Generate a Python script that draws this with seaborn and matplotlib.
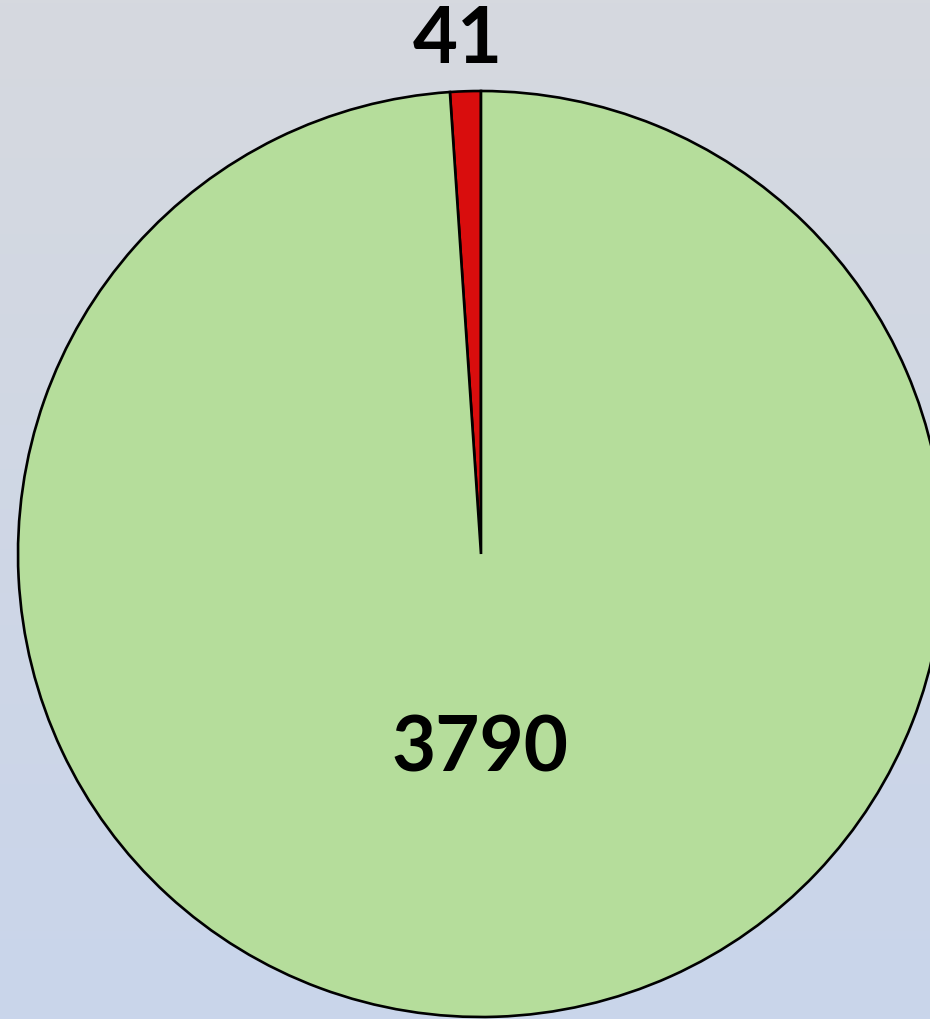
import numpy as np
import matplotlib
matplotlib.use("Agg")
import matplotlib.pyplot as plt
import seaborn as sns

categories = ["Red", "Green"]
values = [41, 3790]
labels = ["41", "3790"]
colors = ["#d90d0d", "#b5dd9b"]

sns.set_theme(style="white")
plt.rcParams['font.family'] = ['Lato', 'DejaVu Sans']

W, H = 930, 1020
fig = plt.figure(figsize=(W / 100, H / 100), dpi=100)
ax = fig.add_axes([0, 0, 1, 1])

# background gradient
top = np.array([0xd6, 0xd9, 0xdf]) / 255
bot = np.array([0xc9, 0xd5, 0xeb]) / 255
t = np.linspace(0, 1, 256)[:, None]
grad = (top[None, :] * (1 - t) + bot[None, :] * t)[:, None, :]
ax.imshow(grad, extent=[0, W, 0, H], aspect="auto", zorder=0, origin="upper")

cx, cy, r = 481, H - 555, 463
wedges, _ = ax.pie(values, colors=colors, startangle=90, counterclock=True,
                   center=(cx, cy), radius=r, frame=True,
                   wedgeprops=dict(edgecolor="black", linewidth=1.9))
for w in wedges:
    w.set_zorder(2)
ax.set_xlim(0, W)
ax.set_ylim(0, H)
ax.set_aspect("equal")
ax.axis("off")

ax.text(458, H - 41, labels[0], ha="center", va="center", fontsize=56,
        fontweight="bold", color="black", zorder=3)
ax.text(480, H - 749, labels[1], ha="center", va="center", fontsize=55,
        fontweight="bold", color="black", zorder=3)

fig.savefig("out.png", dpi=100)
